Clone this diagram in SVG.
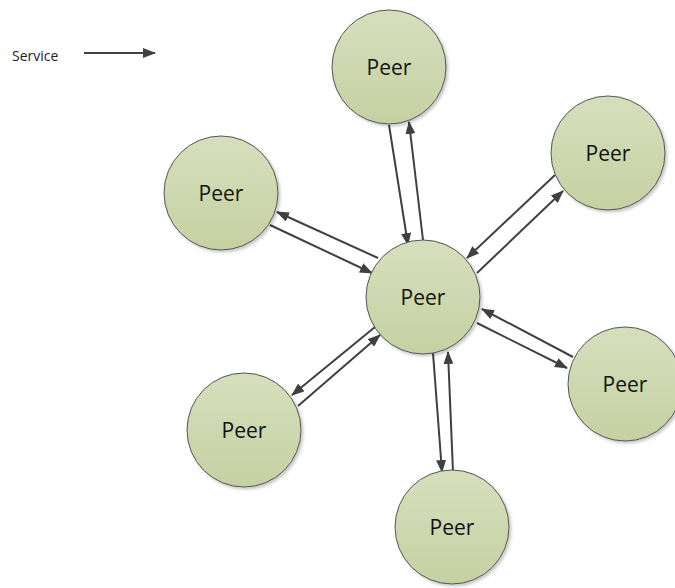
<svg xmlns="http://www.w3.org/2000/svg" width="675" height="588" viewBox="0 0 675 588">
  <defs>
    <linearGradient id="peerFill" x1="0" y1="0" x2="0" y2="1">
      <stop offset="0" stop-color="#d6dfbd"/>
      <stop offset="1" stop-color="#c5d1a2"/>
    </linearGradient>
    <filter id="shadow" x="-20%" y="-20%" width="140%" height="140%">
      <feDropShadow dx="2" dy="2" stdDeviation="1.5" flood-color="#000" flood-opacity="0.22"/>
    </filter>
    <marker id="head" viewBox="0 0 13 10" refX="12" refY="5" markerWidth="13" markerHeight="10" markerUnits="userSpaceOnUse" orient="auto">
      <path d="M0,0 L13,5 L0,10 Z" fill="#404040"/>
    </marker>
  </defs>
  <style>
    .peer circle { fill: url(#peerFill); stroke: #555; stroke-width: 1; filter: url(#shadow); }
    .peer text { font-family: "Open Sans", "Noto Sans", sans-serif; font-size: 21px; fill: #111; text-anchor: middle; }
    .link { stroke: #404040; stroke-width: 2; fill: none; marker-end: url(#head); }
    .legend { font-family: "Open Sans", "Noto Sans", sans-serif; font-size: 14px; fill: #222; }
  </style>

  <!-- legend -->
  <g id="legend">
    <text class="legend" x="12" y="61">Service</text>
    <line class="link" x1="84" y1="53" x2="155" y2="53"/>
  </g>

  <!-- service links between the central peer and its neighbours -->
  <g id="connectors">
    <!-- top -->
    <line class="link" x1="389" y1="125" x2="408" y2="245"/>
    <line class="link" x1="423" y1="240" x2="409" y2="122"/>
    <!-- left -->
    <line class="link" x1="378" y1="258" x2="277" y2="212"/>
    <line class="link" x1="270" y1="225" x2="372" y2="273"/>
    <!-- upper right -->
    <line class="link" x1="555" y1="175" x2="467" y2="258"/>
    <line class="link" x1="477" y1="273" x2="563" y2="191"/>
    <!-- lower right -->
    <line class="link" x1="573" y1="357" x2="482" y2="309"/>
    <line class="link" x1="477" y1="323" x2="567" y2="368"/>
    <!-- lower left -->
    <line class="link" x1="375" y1="327" x2="292" y2="395"/>
    <line class="link" x1="298" y1="406" x2="380" y2="335"/>
    <!-- bottom -->
    <line class="link" x1="433" y1="353" x2="442" y2="472"/>
    <line class="link" x1="453" y1="472" x2="448" y2="352"/>
  </g>

  <g id="peer-top" class="peer">
    <circle cx="389" cy="67" r="57"/>
    <text x="389" y="75">Peer</text>
  </g>
  <g id="peer-upper-right" class="peer">
    <circle cx="608" cy="153" r="57"/>
    <text x="608" y="161">Peer</text>
  </g>
  <g id="peer-left" class="peer">
    <circle cx="221" cy="193" r="57"/>
    <text x="221" y="201">Peer</text>
  </g>
  <g id="peer-center" class="peer">
    <circle cx="423" cy="297" r="57"/>
    <text x="423" y="305">Peer</text>
  </g>
  <g id="peer-lower-right" class="peer">
    <circle cx="625" cy="384" r="57"/>
    <text x="625" y="392">Peer</text>
  </g>
  <g id="peer-lower-left" class="peer">
    <circle cx="244" cy="430" r="57"/>
    <text x="244" y="438">Peer</text>
  </g>
  <g id="peer-bottom" class="peer">
    <circle cx="452" cy="527" r="57"/>
    <text x="452" y="535">Peer</text>
  </g>
</svg>
